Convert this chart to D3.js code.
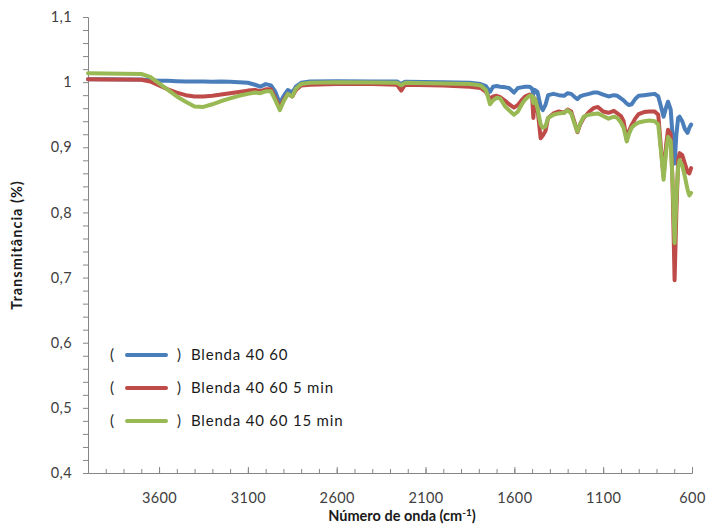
<!DOCTYPE html>
<html>
<head>
<meta charset="utf-8">
<script src="https://cdn.jsdelivr.net/npm/d3@7"></script>
<style>
  html, body { margin: 0; padding: 0; background: #fff; }
  svg { display: block; font-family: Lato, "Open Sans", sans-serif; }
</style>
</head>
<body>
<svg id="chart" width="710" height="529"></svg>
<script>
// FTIR spectra (wavenumber in cm-1, transmittance)
const wavenumbers = [4000, 3900, 3800, 3700, 3650, 3600, 3550, 3500, 3450, 3400, 3350, 3300, 3250, 3200, 3150, 3100, 3060, 3030, 3000, 2970, 2945, 2920, 2900, 2875, 2850, 2830, 2800, 2750, 2600, 2400, 2260, 2237, 2215, 2000, 1850, 1790, 1760, 1737, 1720, 1700, 1680, 1650, 1630, 1602, 1580, 1560, 1540, 1515, 1500, 1493, 1485, 1470, 1452, 1440, 1425, 1410, 1380, 1350, 1320, 1300, 1280, 1260, 1245, 1230, 1210, 1180, 1155, 1130, 1100, 1070, 1040, 1020, 1000, 985, 967, 955, 940, 920, 900, 870, 840, 810, 790, 775, 760, 745, 735, 720, 710, 698, 688, 678, 670, 655, 640, 625, 615, 605];

const blenda = [1.0045, 1.0043, 1.0042, 1.004, 1.003, 1.002, 1.002, 1.0015, 1.001, 1.001, 1.001, 1.0005, 1.001, 1.0005, 1.0, 0.999, 0.996, 0.993, 0.997, 0.995, 0.985, 0.967, 0.978, 0.988, 0.984, 0.993, 0.999, 1.001, 1.0015, 1.001, 1.001, 0.997, 1.0005, 1.0, 0.999, 0.997, 0.994, 0.985, 0.993, 0.994, 0.993, 0.992, 0.991, 0.984, 0.991, 0.992, 0.993, 0.993, 0.99, 0.981, 0.988, 0.985, 0.963, 0.957, 0.965, 0.98, 0.982, 0.98, 0.979, 0.983, 0.982, 0.977, 0.974, 0.978, 0.98, 0.982, 0.984, 0.984, 0.981, 0.978, 0.98, 0.979, 0.975, 0.972, 0.967, 0.965, 0.966, 0.974, 0.979, 0.98, 0.981, 0.982, 0.978, 0.963, 0.947, 0.962, 0.97, 0.958, 0.92, 0.875, 0.92, 0.945, 0.947, 0.94, 0.928, 0.922, 0.93, 0.935];

const blenda5min = [1.0044, 1.0042, 1.004, 1.0038, 1.001, 0.995, 0.989, 0.984, 0.98, 0.978, 0.978, 0.979, 0.981, 0.983, 0.985, 0.987, 0.988, 0.986, 0.989, 0.989, 0.975, 0.96, 0.972, 0.982, 0.978, 0.988, 0.995, 0.996, 0.997, 0.997, 0.996, 0.987, 0.996, 0.995, 0.993, 0.991, 0.985, 0.974, 0.978, 0.979, 0.977, 0.971, 0.966, 0.961, 0.965, 0.972, 0.978, 0.981, 0.978, 0.945, 0.975, 0.96, 0.914, 0.918, 0.925, 0.945, 0.952, 0.955, 0.953, 0.958, 0.955, 0.937, 0.923, 0.935, 0.945, 0.954, 0.96, 0.962, 0.955, 0.953, 0.956, 0.952, 0.948, 0.94, 0.911, 0.925, 0.934, 0.944, 0.951, 0.954, 0.955, 0.955, 0.95, 0.9, 0.855, 0.905, 0.927, 0.92, 0.85, 0.696, 0.8, 0.88, 0.891, 0.888, 0.875, 0.862, 0.86, 0.868];

const blenda15min = [1.0135, 1.0132, 1.013, 1.0125, 1.008, 0.998, 0.988, 0.978, 0.97, 0.9625, 0.962, 0.966, 0.971, 0.975, 0.979, 0.982, 0.984, 0.983, 0.986, 0.986, 0.972, 0.957, 0.97, 0.982, 0.978, 0.99, 0.997, 0.999, 1.0, 0.9995, 0.999, 0.995, 0.999, 0.998, 0.997, 0.995, 0.988, 0.966, 0.972, 0.976, 0.975, 0.962, 0.957, 0.95, 0.955, 0.965, 0.973, 0.979, 0.979, 0.968, 0.975, 0.96, 0.935, 0.93, 0.932, 0.945, 0.95, 0.952, 0.953, 0.957, 0.952, 0.935, 0.924, 0.936, 0.947, 0.95, 0.951, 0.952, 0.948, 0.944, 0.947, 0.945, 0.938, 0.93, 0.909, 0.92, 0.93, 0.935, 0.938, 0.94, 0.941, 0.94, 0.935, 0.895, 0.85, 0.895, 0.916, 0.91, 0.85, 0.753, 0.82, 0.87, 0.88, 0.872, 0.855, 0.835, 0.826, 0.83];

const seriesNames = ["Blenda 40 60", "Blenda 40 60 5 min", "Blenda 40 60 15 min"];
const seriesColors = ["#4A7EBB", "#BE4B48", "#98B954"];
const xTickLabels = [3600, 3100, 2600, 2100, 1600, 1100, 600];
const yTickLabels = [0.4, 0.5, 0.6, 0.7, 0.8, 0.9, 1.0, 1.1];

const svg = d3.select("#chart");
const plot = { left: 88, right: 692, top: 17, bottom: 473 };
const fontFamily = "Lato, 'Open Sans', sans-serif";

const x = d3.scaleLinear().domain([4000, 600]).range([plot.left, plot.right]);
const y = d3.scaleLinear().domain([0.4, 1.1]).range([plot.bottom, plot.top]);

const axisColor = "#868686";
const textColor = "#404040";

// y axis: outward minor ticks every 0.02, labels every 0.1
const yMinor = d3.range(0.4, 1.1001, 0.02);
const yAxisG = svg.append("g").attr("transform", `translate(${plot.left},0)`)
  .call(d3.axisLeft(y).tickValues(yMinor).tickSize(5).tickFormat(""));
const yLabelG = svg.append("g").attr("transform", `translate(${plot.left},0)`)
  .call(d3.axisLeft(y).tickValues(yTickLabels).tickSize(0).tickPadding(16)
    .tickFormat(d => d3.format(".1~f")(d).replace(".", ",")));

// x axis: inward minor ticks every 100 cm-1, taller at labels
const xMinor = d3.range(3900, 599, -100);
const xAxisG = svg.append("g").attr("transform", `translate(0,${plot.bottom})`)
  .call(d3.axisBottom(x).tickValues(xMinor).tickSize(-4).tickFormat(""));
const xLabelG = svg.append("g").attr("transform", `translate(0,${plot.bottom})`)
  .call(d3.axisBottom(x).tickValues(xTickLabels).tickSize(-6).tickPadding(20)
    .tickFormat(d3.format("d")));

[yAxisG, yLabelG, xAxisG, xLabelG].forEach(g => {
  g.selectAll("path.domain").attr("stroke", axisColor);
  g.selectAll(".tick line").attr("stroke", axisColor);
  g.selectAll(".tick text").attr("fill", textColor).attr("font-size", 14.5)
    .attr("letter-spacing", 0.4).attr("font-family", fontFamily);
});
yLabelG.select("path.domain").remove();
xLabelG.select("path.domain").remove();

// spectra
const seriesData = [blenda, blenda5min, blenda15min];
const line = d3.line()
  .x((d, i) => x(wavenumbers[i]))
  .y(d => y(d));

seriesData.forEach((vals, k) => {
  svg.append("path")
    .datum(vals)
    .attr("fill", "none")
    .attr("stroke", seriesColors[k])
    .attr("stroke-width", 4)
    .attr("stroke-linejoin", "round")
    .attr("stroke-linecap", "round")
    .attr("d", line);
});

// legend
const legend = svg.append("g").attr("font-family", fontFamily)
  .attr("font-size", 15).attr("letter-spacing", 0.8);
const legendRows = [355, 388, 421];
seriesNames.forEach((name, k) => {
  const row = legend.append("g").attr("transform", `translate(0,${legendRows[k]})`);
  row.append("text").attr("x", 110).attr("y", 5).text("(").attr("fill", "#2a2a2a");
  row.append("line").attr("x1", 127).attr("x2", 166).attr("y1", 0).attr("y2", 0)
    .attr("stroke", seriesColors[k]).attr("stroke-width", 4).attr("stroke-linecap", "round");
  row.append("text").attr("x", 177).attr("y", 5).text(")").attr("fill", "#2a2a2a");
  row.append("text").attr("x", 191).attr("y", 5).text(name).attr("fill", "#1a1a1a");
});

// axis titles
svg.append("text")
  .attr("transform", `translate(22,${(plot.top + plot.bottom) / 2}) rotate(-90)`)
  .attr("text-anchor", "middle")
  .attr("font-family", fontFamily)
  .attr("font-weight", "bold").attr("font-size", 14.5).attr("letter-spacing", 1)
  .attr("fill", "#1a1a1a")
  .text("Transmitância  (%)");

const xTitle = svg.append("text")
  .attr("x", 402).attr("y", 521)
  .attr("text-anchor", "middle")
  .attr("font-family", fontFamily)
  .attr("font-weight", "bold").attr("font-size", 14.5).attr("fill", "#1a1a1a");
xTitle.append("tspan").text("Número de onda (cm");
xTitle.append("tspan").attr("dy", -5).attr("font-size", 10).text("-1");
xTitle.append("tspan").attr("dy", 5).text(")");
</script>
</body>
</html>
